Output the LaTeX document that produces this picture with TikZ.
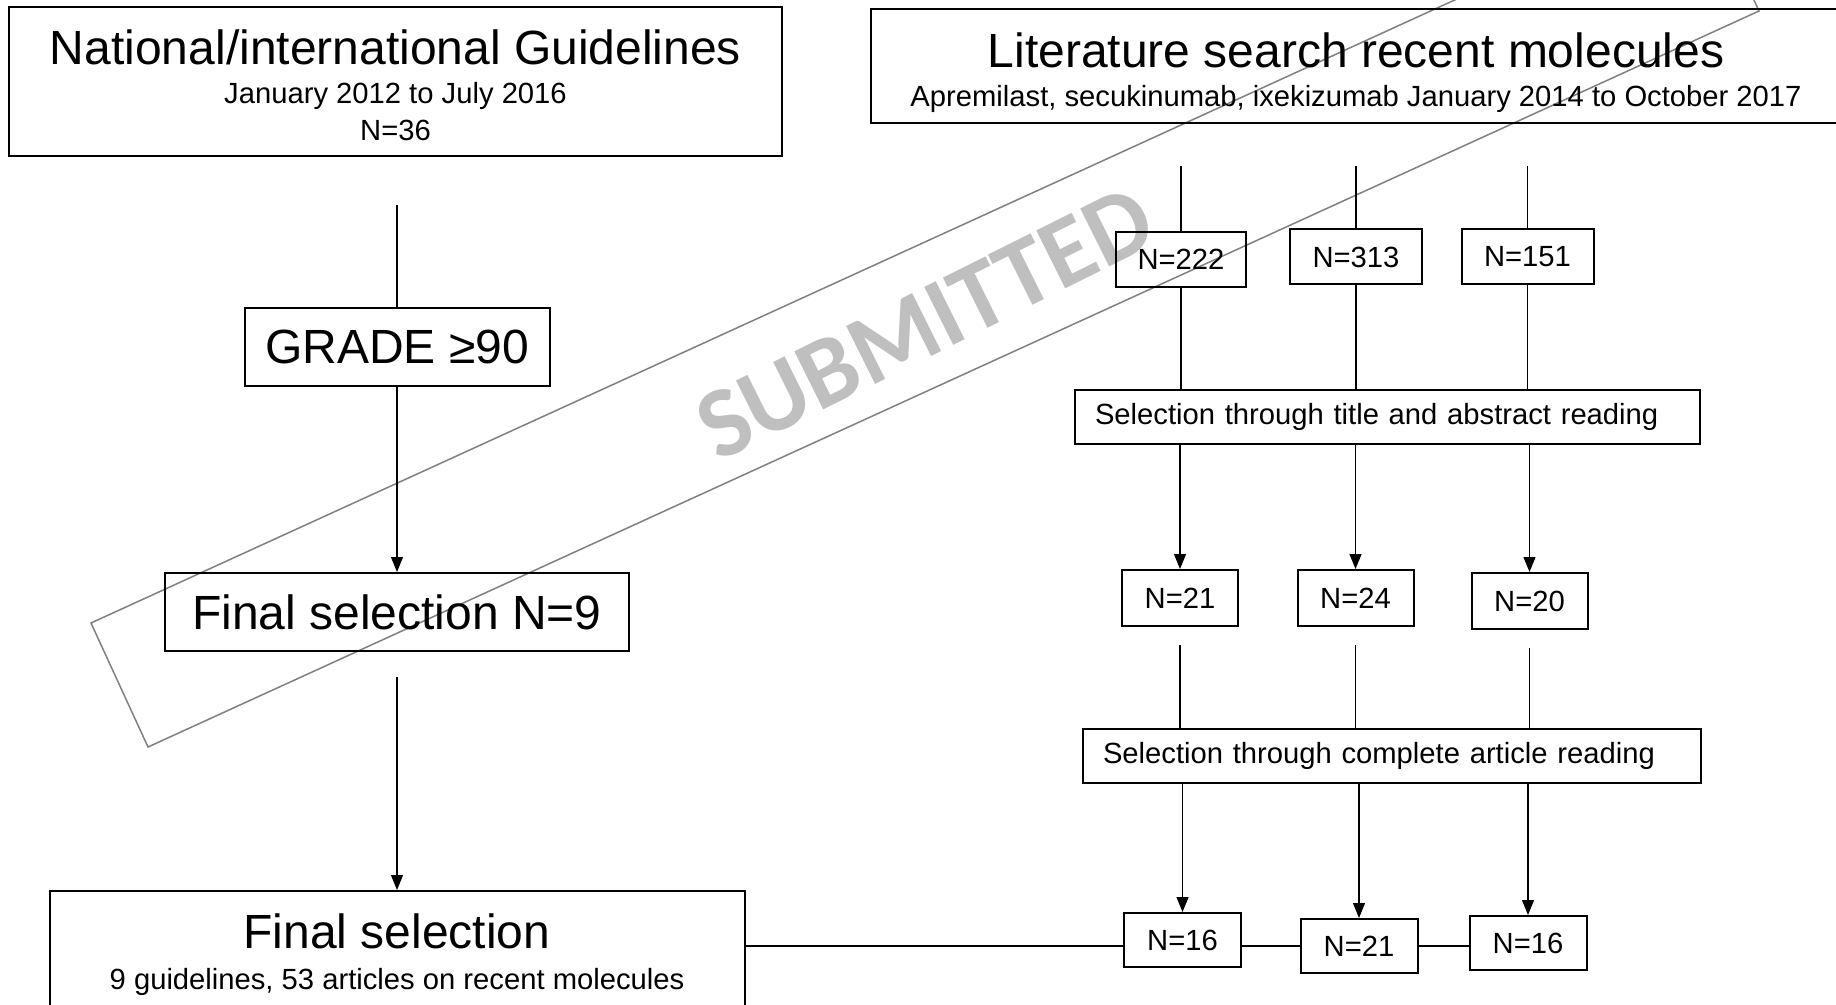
\documentclass[tikz,border=0pt]{standalone}
\usepackage{fontspec}
\setmainfont{Liberation Sans}
\newfontfamily\wmfont{Carlito}
\usepackage{tikz}
\usetikzlibrary{arrows.meta}
\usetikzlibrary{positioning}
\definecolor{wmtext}{RGB}{191,191,191}
\definecolor{wmline}{RGB}{128,128,128}
\newcommand{\bigtxt}{\fontsize{24}{28}\selectfont}
\newcommand{\smalltxt}{\fontsize{14.6}{18.5}\selectfont}
\tikzset{every picture/.style={line width=0.6pt}}

\begin{document}
\begin{tikzpicture}[x=0.5pt, y=-0.5pt,
  box/.style={draw, line width=1pt, inner sep=0pt, align=center, font=\smalltxt},
  selbox/.style={draw, line width=1pt, inner xsep=10pt, inner ysep=0pt, align=left, font=\smalltxt, minimum height=27pt},
  nbox/.style={draw, line width=1pt, inner sep=0pt, font=\smalltxt},
  arr/.style={-{Triangle[width=6pt,length=7.5pt]}}]
\useasboundingbox (0,0) rectangle (1836,1005);

% watermark
\draw[wmline, line width=0.75pt] (91,623) -- (148,747) -- (1759,11) -- (1702,-113) -- cycle;
\node[wmtext, rotate=26.5, font=\wmfont\bfseries\fontsize{50}{52}\selectfont] (wm) at (925,323) {SUBMITTED};

% guidelines branch
\node[box, minimum width=386.5pt, minimum height=74.5pt] (guide) at (395.5,81.5)
  {{\bigtxt\rule{0pt}{21pt}National/international Guidelines}\\[0.75pt] January 2012 to July 2016\\ N=36};
\node[box, minimum width=152.5pt, minimum height=39pt, font=\bigtxt] (grade) at (397,347) {GRADE ≥90};
\node[box, minimum width=232pt, minimum height=39pt, font=\bigtxt] (fin9) at (397,612) {Final selection N=9};
\node[box, minimum width=347.5pt, minimum height=63.75pt] (final) at (397,954.75)
  {{\bigtxt Final selection}\\[1.75pt] 9 guidelines, 53 articles on recent molecules};

\coordinate (gtop) at (397,205);
\draw (gtop) -- (grade.north);
\draw[arr] (grade.south) -- (fin9.north);
\draw[arr] ([yshift=-12.5pt]fin9.south) -- (final.north);

% literature branch
\node[box, minimum width=485pt, minimum height=57pt] (lit) at (1356,66)
  {{\bigtxt\rule{0pt}{24pt}Literature search recent molecules}\\[1.25pt] Apremilast, secukinumab, ixekizumab January 2014 to October 2017};
\coordinate (littop) at (1356,166);

\node[nbox, minimum width=65pt, minimum height=27.5pt] (n222) at (1181,259.5) {N=222};
\node[nbox, minimum width=66pt, minimum height=27.5pt] (n313) at (1356,257) {N=313};
\node[nbox, minimum width=66pt, minimum height=27.5pt] (n151) at (1527.5,257) {N=151};

\node[selbox, text width=292.5pt] (seltitle) at (1387.5,417) {Selection through title and abstract reading};

\node[nbox, minimum width=58pt, minimum height=28pt] (n21a) at (1180,598) {N=21};
\node[nbox, minimum width=58pt, minimum height=28pt] (n24) at (1355.5,598) {N=24};
\node[nbox, minimum width=58pt, minimum height=28pt] (n20) at (1529.5,601) {N=20};

\node[selbox, text width=289pt] (selcomp) at (1392,756) {Selection through complete article reading};

\node[nbox, minimum width=58.5pt, minimum height=27pt] (n16a) at (1182.5,940) {N=16};
\node[nbox, minimum width=58.5pt, minimum height=27pt] (n21b) at (1359,946) {N=21};
\node[nbox, minimum width=58.5pt, minimum height=27pt] (n16b) at (1528,943) {N=16};

\foreach \n in {n222,n313,n151} {
  \draw (\n |- littop) -- (\n.north);
  \draw (\n.south) -- (seltitle.north -| \n);
}
\foreach \n in {n21a,n24,n20} {
  \draw[arr] (seltitle.south -| \n) -- (\n.north);
  \draw ([yshift=-9pt]\n.south) -- (selcomp.north -| \n);
}
\foreach \n in {n16a,n21b,n16b}
  \draw[arr] (selcomp.south -| \n) -- (\n.north);

\draw (final.east |- n21b) -- (n16a.west |- n21b);
\draw (n16a.east |- n21b) -- (n21b.west);
\draw (n21b.east) -- (n16b.west |- n21b);
\end{tikzpicture}
\end{document}
